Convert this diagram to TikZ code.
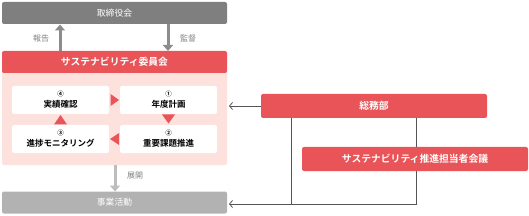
\documentclass[tikz,border=0pt]{standalone}
\usepackage{fontspec}
\setmainfont{Noto Sans CJK JP}
\newfontfamily\cjkbold{Noto Sans CJK JP}[UprightFont={* Bold}]
\usetikzlibrary{arrows.meta,calc}
\definecolor{cred}{HTML}{E85458}
\definecolor{cpink}{HTML}{FCE1DD}
\definecolor{cgrayA}{HTML}{7F7F7F}
\definecolor{cgrayB}{HTML}{B2B2B2}
\definecolor{carrA}{HTML}{8C8C8C}
\definecolor{carrB}{HTML}{BDBDBD}
\definecolor{cline}{HTML}{555555}
\definecolor{clabel}{HTML}{808080}
\newcommand{\numsz}{\fontsize{6.5}{7}\selectfont}
\tikzset{
  x=1pt,y=1pt,
  band/.style={rectangle,rounded corners=2pt,minimum width=225pt,minimum height=22pt,inner sep=0pt,text=white,font=\fontsize{8.8}{10}\selectfont},
  redbox/.style={rectangle,rounded corners=2pt,fill=cred,inner sep=0pt,text=white,font=\cjkbold\fontsize{9.8}{11}\selectfont},
  wbox/.style={rectangle,rounded corners=2pt,fill=white,minimum width=97pt,inner sep=0pt,align=center,font=\cjkbold\fontsize{8.5}{11}\selectfont},
  lbl/.style={text=clabel,font=\fontsize{8}{9}\selectfont,inner sep=0pt},
  fatarrow/.style={line width=3pt,-{Triangle[length=6pt,width=10pt]}},
  conn/.style={draw=cline,line width=0.8pt},
  connarr/.style={conn,-{Straight Barb[length=3pt,width=7pt,line width=0.8pt]}},
  tri/.style={fill=cred,draw=none}
}
\begin{document}
\begin{tikzpicture}
\useasboundingbox (0,0) rectangle (529,-216);
% pink area
\node[rectangle,rounded corners=2pt,fill=cpink,minimum width=225pt,minimum height=113pt,inner sep=0pt] (pink) at (114.5,-108.5) {};
\node[band,fill=cgrayA] (board) at (114.5,-13) {取締役会};
\node[redbox,minimum width=225pt,minimum height=22pt] (comm) at (114.5,-62) {サステナビリティ委員会};
\node[band,fill=cgrayB] (biz) at (114.5,-202.5) {事業活動};
% inner boxes
\node[wbox,minimum height=28pt] (b4) at (60.5,-100) {{\numsz ④}\\実績確認};
\node[wbox,minimum height=28pt] (b1) at (168.5,-100) {{\numsz ①}\\年度計画};
\node[wbox,minimum height=28pt] (b3) at (60.5,-139) {{\numsz ③}\\進捗モニタリング};
\node[wbox,minimum height=28pt] (b2) at (168.5,-139) {{\numsz ②}\\重要課題推進};
% triangles
\fill[tri] (110.5,-94) -- (119,-100) -- (110.5,-106) -- cycle;
\fill[tri] (162,-114.5) -- (175,-114.5) -- (168.5,-123.5) -- cycle;
\fill[tri] (119,-133) -- (110,-139) -- (119,-145) -- cycle;
\fill[tri] (54,-124.5) -- (67,-124.5) -- (60.5,-115) -- cycle;
% fat arrows
\draw[fatarrow,draw=carrA] (60,-51) -- (60,-24.5);
\draw[fatarrow,draw=carrA] (168,-24.5) -- (168,-51);
\draw[fatarrow,draw=carrB] (115,-165) -- (115,-191.5);
\node[lbl] (l1) at (41,-38) {報告};
\node[lbl] (l2) at (188,-38) {監督};
\node[lbl] (l3) at (135,-176) {展開};
% right side
\node[redbox,minimum width=226pt,minimum height=24pt] (gad) at (374,-106) {総務部};
\node[redbox,minimum width=226pt,minimum height=24pt] (meet) at (415,-159) {サステナビリティ推進担当者会議};
\coordinate (c1) at (291,-204);
\coordinate (c2) at (416,-204);
\coordinate (e1) at (229,-106);
\coordinate (e2) at (229,-204);
\draw[connarr] (gad.west) -- (e1);
\draw[conn] (gad.south -| c1) -- (c1);
\draw[conn] (gad.south -| c2) -- (meet.north -| c2);
\draw[connarr] (meet.south -| c2) -- (c2) -- (e2);
\end{tikzpicture}
\end{document}
